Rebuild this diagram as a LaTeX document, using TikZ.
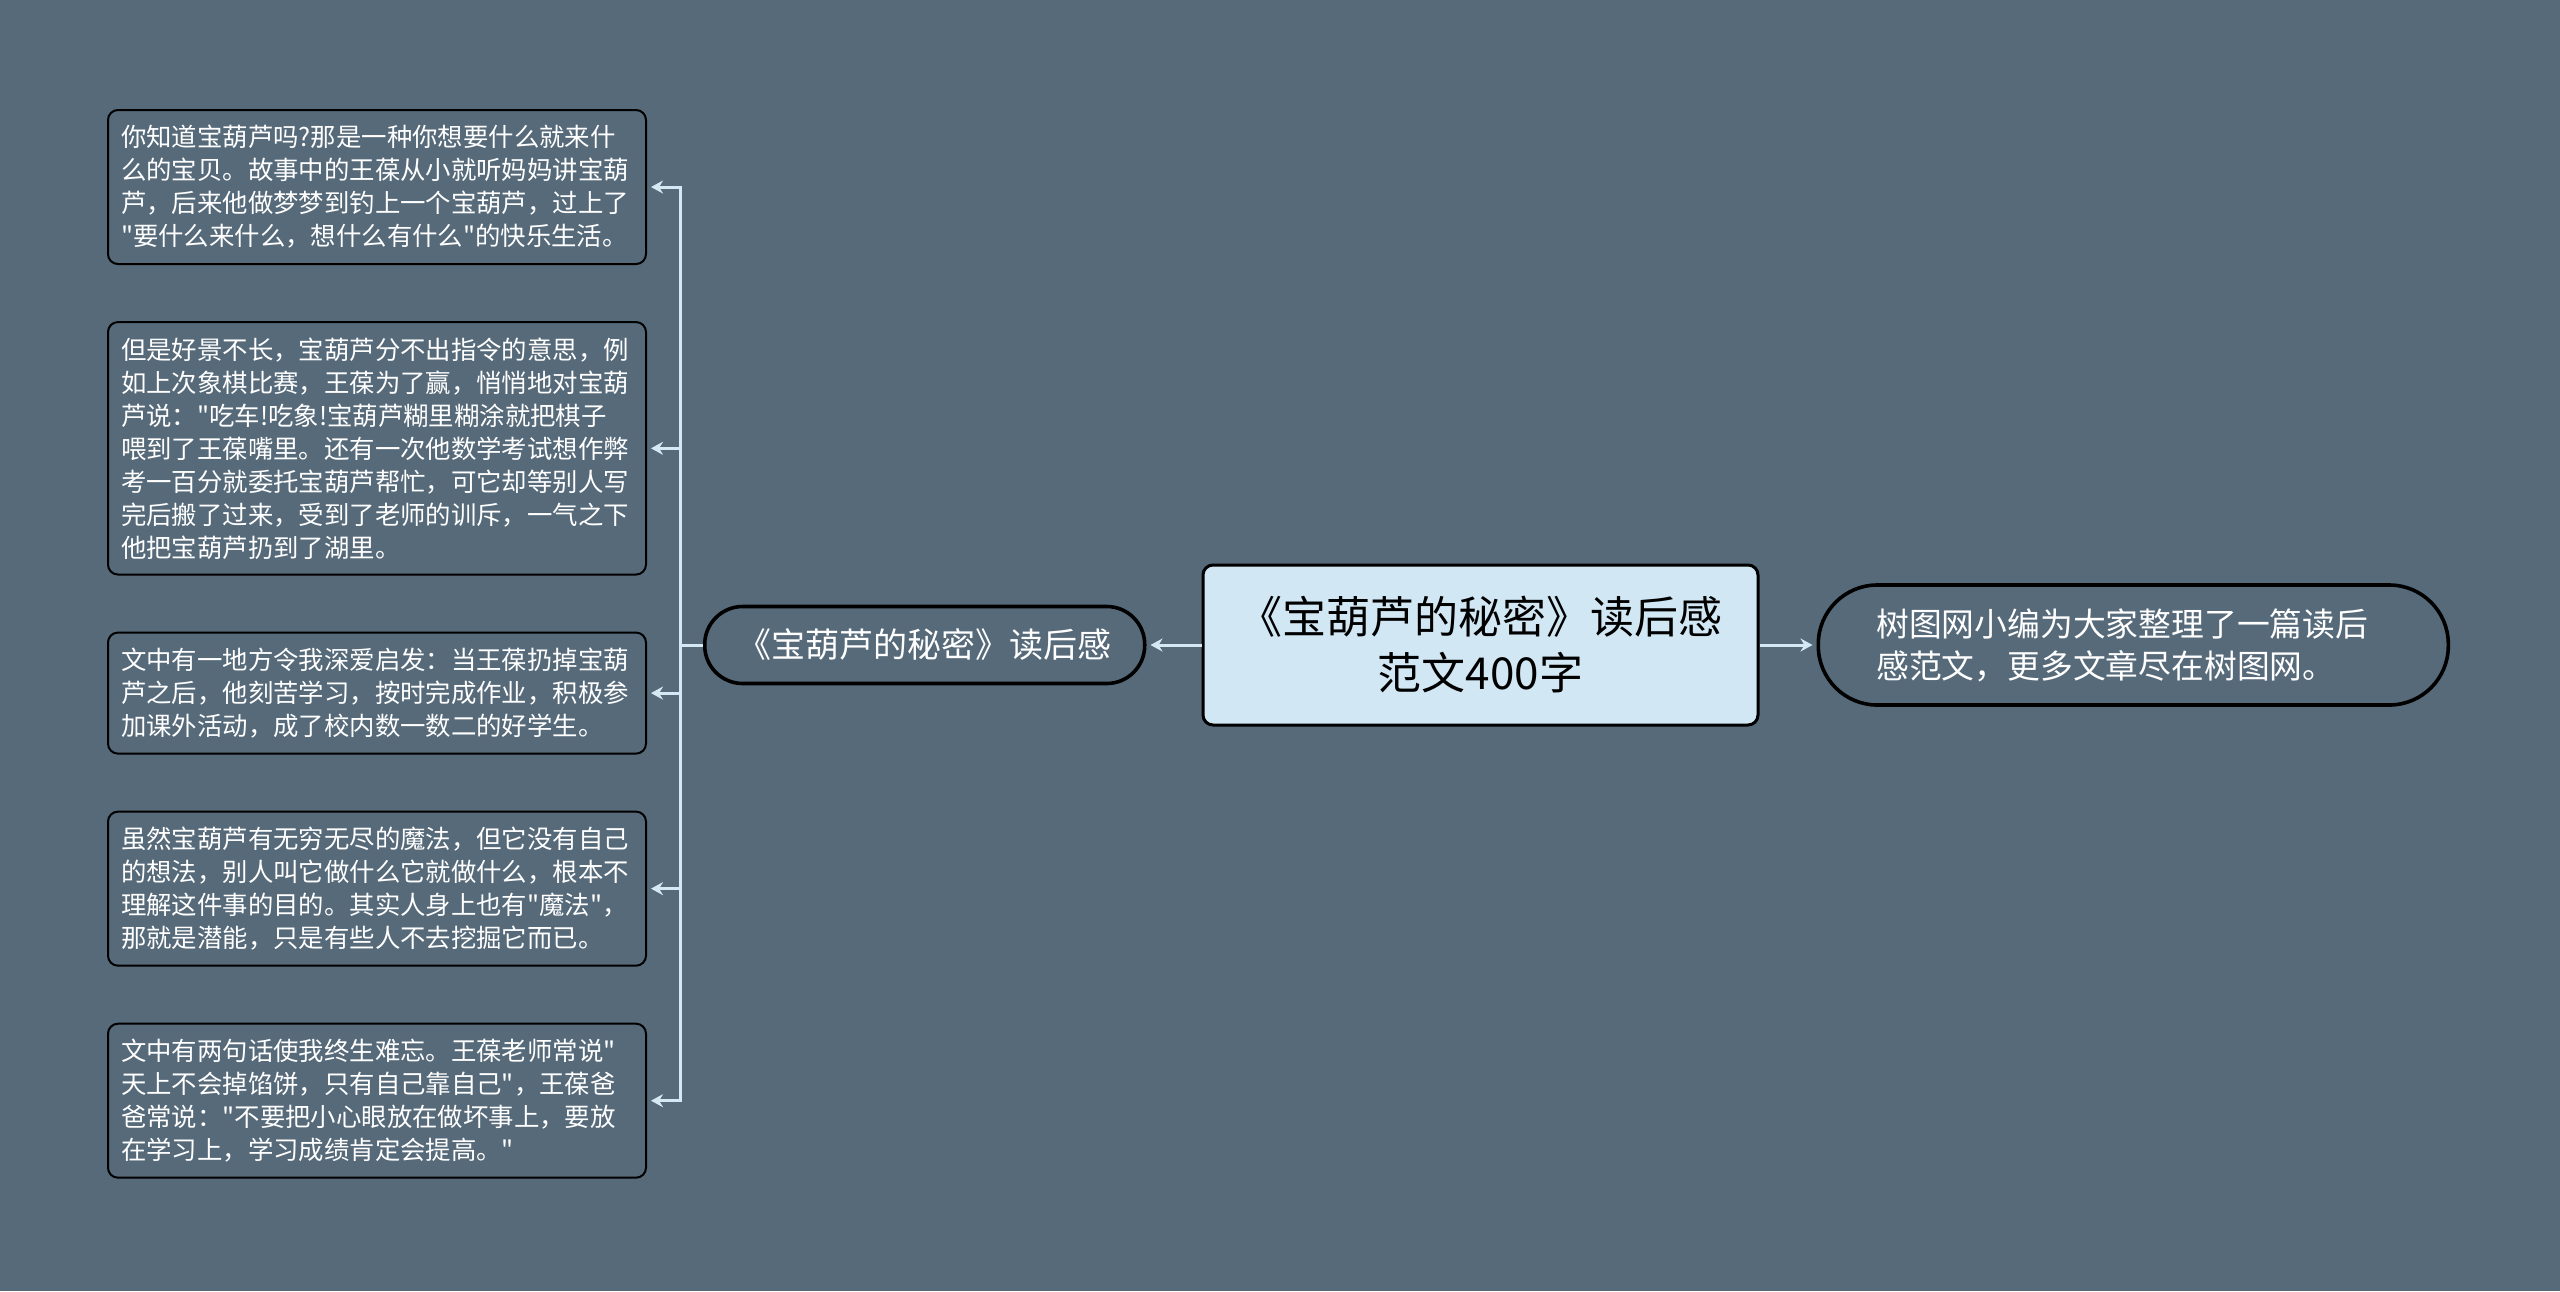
\documentclass[tikz,border=0pt]{standalone}
\usepackage{fontspec}
\newfontfamily\cjkfont{Noto Sans CJK SC}
\usetikzlibrary{arrows.meta, positioning}

\definecolor{mapbg}{HTML}{566A7A}
\definecolor{linkblue}{HTML}{D3E9F3}
\definecolor{titlefill}{HTML}{D1E7F3}

\begin{document}
\begin{tikzpicture}[
    x=0.5pt, y=-0.5pt,
    node distance=28pt,
    rootbox/.style={rectangle, draw=black, line width=1.5pt, fill=titlefill, rounded corners=5pt, minimum width=277.5pt, minimum height=80pt, align=center, text=black, font=\cjkfont\fontsize{22}{28}\selectfont},
    subtopic/.style={rectangle, draw=black, line width=1.8pt, rounded corners=19pt, minimum width=220pt, minimum height=38.5pt, text=white, font=\cjkfont\fontsize{17}{20}\selectfont},
    endnote/.style={rectangle, draw=black, line width=1.8pt, rounded corners=29.5pt, minimum width=315pt, minimum height=60pt, text width=257pt, align=left, text=white, font=\cjkfont\fontsize{16.4}{21}\selectfont},
    leafbox/.style={rectangle, draw=black, line width=1pt, rounded corners=5pt, text width=256pt, inner xsep=6.5pt, inner ysep=7.7pt, align=left, text=white, font=\cjkfont\fontsize{12.7}{16.5}\selectfont},
    link/.style={draw=linkblue, line width=1.5pt, -{Stealth[length=6pt, width=6.5pt]}, shorten >=2pt}
]

\fill[mapbg] (0,0) rectangle (2560,1291);
\useasboundingbox (0,0) rectangle (2560,1291);

\node (title) [rootbox] at (1480.5,645) {《宝葫芦的秘密》读后感\\范文400字};
\node (review) [subtopic, left=27.5pt of title] {《宝葫芦的秘密》读后感};
\node (note) [endnote, right=28.5pt of title] {树图网小编为大家整理了一篇读后\\感范文，更多文章尽在树图网。};

\node (story) [leafbox, anchor=north east] at (647,109) {你知道宝葫芦吗?那是一种你想要什么就来什\\么的宝贝。故事中的王葆从小就听妈妈讲宝葫\\芦，后来他做梦梦到钓上一个宝葫芦，过上了\\"要什么来什么，想什么有什么"的快乐生活。};
\node (trouble) [leafbox, below=of story] {但是好景不长，宝葫芦分不出指令的意思，例\\如上次象棋比赛，王葆为了赢，悄悄地对宝葫\\芦说："吃车!吃象!宝葫芦糊里糊涂就把棋子\\喂到了王葆嘴里。还有一次他数学考试想作弊\\考一百分就委托宝葫芦帮忙，可它却等别人写\\完后搬了过来，受到了老师的训斥，一气之下\\他把宝葫芦扔到了湖里。};
\node (lesson) [leafbox, below=of trouble] {文中有一地方令我深爱启发：当王葆扔掉宝葫\\芦之后，他刻苦学习，按时完成作业，积极参\\加课外活动，成了校内数一数二的好学生。};
\node (magic) [leafbox, below=of lesson] {虽然宝葫芦有无穷无尽的魔法，但它没有自己\\的想法，别人叫它做什么它就做什么，根本不\\理解这件事的目的。其实人身上也有"魔法"，\\那就是潜能，只是有些人不去挖掘它而已。};
\node (quote) [leafbox, below=of magic] {文中有两句话使我终生难忘。王葆老师常说"\\天上不会掉馅饼，只有自己靠自己"，王葆爸\\爸常说："不要把小心眼放在做坏事上，要放\\在学习上，学习成绩肯定会提高。"};

\draw [link] (title) -- (review);
\draw [link] (title) -- (note);
\foreach \leaf in {story, trouble, lesson, magic, quote}
    \draw [link] (review.west) -- ++(-22,0) |- (\leaf.east);

\end{tikzpicture}
\end{document}
